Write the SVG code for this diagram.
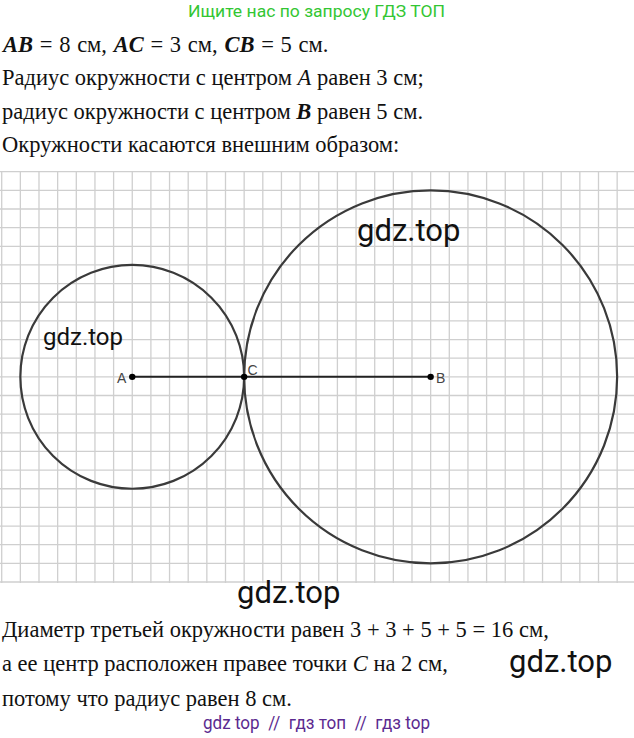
<svg xmlns="http://www.w3.org/2000/svg" width="634" height="738" viewBox="0 0 634 738">
<style>
.t{font-family:"Liberation Serif","Times New Roman",serif;font-size:22.5px;fill:#111}
.i{font-style:italic}
.b{font-weight:bold}
.wm{font-family:Roboto,"Liberation Sans",Arial,sans-serif;fill:#111}
.lbl{font-family:"Liberation Sans",Arial,sans-serif;font-size:14px;fill:#444}
.grid{stroke:#cfcfcf;stroke-width:1.3;fill:none}
.circ{stroke:#3a3a3a;stroke-width:2.2;fill:none}
</style>
<rect width="634" height="738" fill="#fff"/>
<g id="header">
<text x="188" y="17" font-family="Roboto,'Liberation Sans',Arial,sans-serif" font-size="17" fill="#33c633" textLength="257" lengthAdjust="spacingAndGlyphs">Ищите нас по запросу ГДЗ ТОП</text>
<text class="t" x="3" y="52" word-spacing="1.1"><tspan class="i b">AB</tspan> = 8 см, <tspan class="i b">AC</tspan> = 3 см, <tspan class="i b">CB</tspan> = 5 см.</text>
<text class="t" x="2" y="85">Радиус окружности с центром <tspan class="i">A</tspan> равен 3 см;</text>
<text class="t" x="2" y="118.5">радиус окружности с центром <tspan class="i b">B</tspan> равен 5 см.</text>
<text class="t" x="2" y="152">Окружности касаются внешним образом:</text>
</g>
<g id="grid">
<path class="grid" d="M0 171.7H634M0 190.35H634M0 209H634M0 227.65H634M0 246.3H634M0 264.95H634M0 283.6H634M0 302.25H634M0 320.9H634M0 339.55H634M0 358.2H634M0 376.85H634M0 395.5H634M0 414.15H634M0 432.8H634M0 451.45H634M0 470.1H634M0 488.75H634M0 507.4H634M0 526.05H634M0 544.7H634M0 563.35H634M0 582H634"/>
<path class="grid" d="M1.7 171.7V583M20.35 171.7V583M39 171.7V583M57.65 171.7V583M76.3 171.7V583M94.95 171.7V583M113.6 171.7V583M132.25 171.7V583M150.9 171.7V583M169.55 171.7V583M188.2 171.7V583M206.85 171.7V583M225.5 171.7V583M244.15 171.7V583M262.8 171.7V583M281.45 171.7V583M300.1 171.7V583M318.75 171.7V583M337.4 171.7V583M356.05 171.7V583M374.7 171.7V583M393.35 171.7V583M412 171.7V583M430.65 171.7V583M449.3 171.7V583M467.95 171.7V583M486.6 171.7V583M505.25 171.7V583M523.9 171.7V583M542.55 171.7V583M561.2 171.7V583M579.85 171.7V583M598.5 171.7V583M617.15 171.7V583"/>
</g>
<g id="circleA"><circle class="circ" cx="132.25" cy="376.85" r="111.9"/></g>
<g id="circleB"><circle class="circ" cx="430.65" cy="376.85" r="186.5"/></g>
<g id="connectors">
<line x1="132.25" y1="376.85" x2="430.65" y2="376.85" stroke="#222" stroke-width="2"/>
</g>
<g id="pointA"><circle cx="132.25" cy="376.85" r="3.2" fill="#000"/><text class="lbl" x="117" y="382.5">A</text></g>
<g id="pointC"><circle cx="244.15" cy="376.85" r="3.2" fill="#000"/><text class="lbl" x="247.5" y="375">C</text></g>
<g id="pointB"><circle cx="430.65" cy="376.85" r="3.2" fill="#000"/><text class="lbl" x="436" y="383">B</text></g>
<g id="watermarks">
<text class="wm" x="43" y="345" font-size="24">gdz.top</text>
<text class="wm" x="357" y="241" font-size="31">gdz.top</text>
<text class="wm" x="237" y="603" font-size="31">gdz.top</text>
<text class="wm" x="509" y="672" font-size="31">gdz.top</text>
</g>
<g id="footer">
<text class="t" x="2" y="637">Диаметр третьей окружности равен 3 + 3 + 5 + 5 = 16 см,</text>
<text class="t" x="2" y="671">а ее центр расположен правее точки <tspan class="i">C</tspan> на 2 см,</text>
<text class="t" x="2" y="706">потому что радиус равен 8 см.</text>
<text x="203" y="729" font-family="Roboto,'Liberation Sans',Arial,sans-serif" font-size="18" fill="#5b2a90" textLength="227" lengthAdjust="spacingAndGlyphs" xml:space="preserve">gdz top  //  гдз топ  //  гдз top</text>
</g>
</svg>
